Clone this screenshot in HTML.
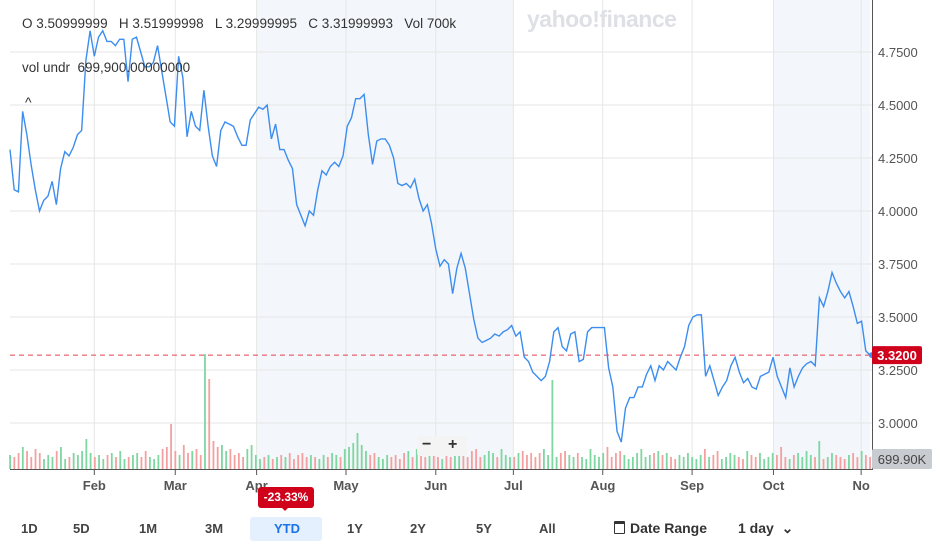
<!DOCTYPE html>
<html><head><meta charset="utf-8"><style>
body{margin:0;width:940px;height:556px;background:#fff;font-family:"Liberation Sans",sans-serif;overflow:hidden;position:relative}
.t{position:absolute;color:#333;font-size:13.5px;white-space:nowrap}
.btn{position:absolute;top:521px;font-size:13px;font-weight:bold;color:#444;white-space:nowrap}
</style></head><body>
<svg id="chart" width="940" height="556" style="position:absolute;left:0;top:0"></svg>
<div class="t" style="left:22px;top:16px">O 3.50999999&nbsp;&nbsp; H 3.51999998&nbsp;&nbsp; L 3.29999995&nbsp;&nbsp; C 3.31999993&nbsp;&nbsp; Vol 700k</div>
<div class="t" style="left:22px;top:60px">vol undr&nbsp; 699,900.00000000</div>
<div class="t" style="left:25px;top:94px;font-size:14px">^</div>
<div style="position:absolute;left:527px;top:6px;font-size:23px;font-weight:bold;color:#dfe0e6;letter-spacing:-0.5px">yahoo!finance</div>
<div style="position:absolute;left:417px;top:436px;width:50px;height:20px;background:#f4f4f4;border-radius:3px;font-size:16px;font-weight:bold;color:#333"><span style="position:absolute;left:5px;top:0">−</span><span style="position:absolute;left:31px;top:0">+</span></div>
<div style="position:absolute;left:258px;top:487px;width:56px;height:21px;background:#d0021b;color:#fff;border-radius:3px;font-size:12px;font-weight:bold;text-align:center;line-height:21px">-23.33%</div>
<div style="position:absolute;left:280px;top:506px;width:0;height:0;border-left:5px solid transparent;border-right:5px solid transparent;border-top:5px solid #d0021b"></div>
<div style="position:absolute;left:250px;top:517px;width:72px;height:24px;background:#e4f0fd;border-radius:3px"></div>
<div class="btn" style="left:21px">1D</div>
<div class="btn" style="left:73px">5D</div>
<div class="btn" style="left:139px">1M</div>
<div class="btn" style="left:205px">3M</div>
<div class="btn" style="left:274px;color:#1a73e8">YTD</div>
<div class="btn" style="left:347px">1Y</div>
<div class="btn" style="left:410px">2Y</div>
<div class="btn" style="left:476px">5Y</div>
<div class="btn" style="left:539px">All</div>
<div class="btn" style="left:614px;font-size:14px;top:520px;color:#333"><span style="display:inline-block;width:9px;height:9px;border:1.5px solid #333;border-top-width:3px;border-radius:1px;margin-right:5px;vertical-align:-1px"></span>Date Range</div>
<div class="btn" style="left:738px;font-size:14px;top:520px;color:#333">1 day &nbsp;⌄</div>
<script>
const NS="http://www.w3.org/2000/svg";
const svg=document.getElementById('chart');
const yTicks=[4.75,4.5,4.25,4.0,3.75,3.5,3.25,3.0];
const months=["Feb","Mar","Apr","May","Jun","Jul","Aug","Sep","Oct","No"];
const monthIdx=[20,39.2,58.5,79.7,101,119.4,140.6,161.8,181.1,201.9];
const shadedRanges=[[58.5,119.4],[181.1,204]];
const prices=[4.29,4.10,4.09,4.47,4.36,4.22,4.10,4.0,4.05,4.07,4.14,4.03,4.20,4.28,4.26,4.30,4.36,4.38,4.71,4.85,4.73,4.82,4.85,4.80,4.80,4.78,4.81,4.81,4.61,4.81,4.82,4.75,4.68,4.68,4.70,4.78,4.66,4.54,4.42,4.40,4.73,4.63,4.35,4.47,4.40,4.38,4.57,4.40,4.26,4.21,4.38,4.42,4.41,4.40,4.35,4.31,4.31,4.43,4.46,4.49,4.48,4.50,4.34,4.41,4.29,4.29,4.24,4.20,4.03,3.98,3.93,4.00,3.98,4.10,4.19,4.17,4.21,4.23,4.21,4.26,4.40,4.44,4.53,4.53,4.55,4.36,4.22,4.33,4.34,4.34,4.31,4.25,4.13,4.12,4.13,4.11,4.15,4.06,4.0,4.03,3.94,3.82,3.74,3.77,3.75,3.61,3.73,3.80,3.73,3.61,3.49,3.40,3.38,3.39,3.40,3.42,3.41,3.43,3.44,3.46,3.41,3.43,3.31,3.29,3.24,3.22,3.20,3.22,3.29,3.43,3.45,3.36,3.34,3.42,3.43,3.29,3.30,3.43,3.45,3.45,3.45,3.45,3.26,3.17,2.96,2.91,3.07,3.12,3.12,3.17,3.17,3.23,3.27,3.20,3.27,3.25,3.29,3.27,3.25,3.31,3.36,3.46,3.50,3.51,3.51,3.22,3.27,3.20,3.13,3.17,3.20,3.27,3.31,3.24,3.19,3.21,3.17,3.16,3.22,3.23,3.24,3.31,3.22,3.17,3.12,3.26,3.17,3.22,3.26,3.28,3.29,3.27,3.59,3.55,3.62,3.71,3.66,3.62,3.59,3.62,3.55,3.47,3.48,3.34,3.32];
const volumes=[14,12,16,22,18,12,20,16,10,14,12,18,22,10,12,16,14,18,30,16,12,14,10,14,16,12,18,10,12,14,16,12,18,12,10,14,20,22,45,18,14,24,16,18,20,14,115,90,28,22,24,18,20,14,16,12,20,24,14,10,12,14,10,12,14,12,16,10,14,16,12,14,12,10,14,12,16,14,12,20,22,26,36,24,18,14,16,12,10,14,12,14,10,16,18,12,20,14,12,14,16,12,10,14,12,14,16,14,12,18,20,12,14,18,16,12,20,14,12,12,16,18,14,16,12,16,20,14,89,12,16,18,14,12,16,12,10,20,14,12,16,22,12,16,18,14,10,12,16,20,12,14,16,18,14,16,12,10,14,12,16,12,10,14,20,12,14,18,10,12,16,14,12,10,18,14,12,16,10,12,16,14,22,12,10,14,16,12,18,14,12,28,10,12,16,14,12,10,14,16,12,18,14,12];
const X0=10,X1=870;
const xs=i=>X0+i*(X1-X0)/(prices.length-1);
const ys=v=>52+(4.75-v)*212;
const yv=v=>469-v;
function el(t,a,p){const e=document.createElementNS(NS,t);for(const k in a)e.setAttribute(k,a[k]);(p||svg).appendChild(e);return e;}
shadedRanges.forEach(r=>{const e=el('rect',{x:xs(r[0]),y:0,width:Math.min(872,xs(r[1]))-xs(r[0]),height:470,fill:'#f3f6fa'});

});
yTicks.forEach(v=>{el('line',{x1:10,x2:872,y1:ys(v),y2:ys(v),stroke:'#e6e6e6'});
const t=el('text',{x:878,y:ys(v)+5,'font-size':13,fill:'#555','font-family':'Liberation Sans'});t.textContent=v.toFixed(4);

});
months.forEach((m,k)=>{const x=xs(monthIdx[k]);el('line',{x1:x,x2:x,y1:0,y2:470,stroke:'#e6e6e6'});el('line',{x1:x,x2:x,y1:469,y2:475,stroke:'#555'});
const t=el('text',{x:x,y:490,'font-size':13,fill:'#555','font-weight':'bold','text-anchor':'middle','font-family':'Liberation Sans'});t.textContent=m;

});
volumes.forEach((v,i)=>{const idx=i*(prices.length-1)/(volumes.length-1);const pi=Math.round(idx);const up=pi===0||prices[pi]>=prices[pi-1];
const b=el('rect',{x:xs(idx)-0.8,y:yv(v),width:1.8,height:v,fill:up?'#7ed6a0':'#f4a0a0'});

});
el('line',{x1:10,x2:872,y1:469.5,y2:469.5,stroke:'#555'});
el('line',{x1:872.5,x2:872.5,y1:0,y2:470,stroke:'#555'});
const last=prices[prices.length-1];
el('line',{x1:10,x2:872,y1:ys(3.32),y2:ys(3.32),stroke:'#e8424f','stroke-dasharray':'5,4'});
const line=el('polyline',{points:prices.map((v,i)=>xs(i)+','+ys(v)).join(' '),fill:'none',stroke:'#3c8df0','stroke-width':1.4});


el('circle',{cx:xs(prices.length-1)+2,cy:ys(last),r:3,fill:'#3c8df0'});
const pb=el('rect',{x:872,y:ys(3.32)-9,width:50,height:18,rx:2,fill:'#d0021b'});


const pt=el('text',{x:897,y:ys(3.32)+5,'font-size':13,fill:'#fff','font-weight':'bold','text-anchor':'middle','font-family':'Liberation Sans'});pt.textContent='3.3200';
const vb=el('rect',{x:872,y:449,width:60,height:20,rx:2,fill:'#c8cbd0'});


const vt=el('text',{x:902,y:464,'font-size':13,fill:'#444','text-anchor':'middle','font-family':'Liberation Sans'});vt.textContent='699.90K';
</script>
</body></html>
